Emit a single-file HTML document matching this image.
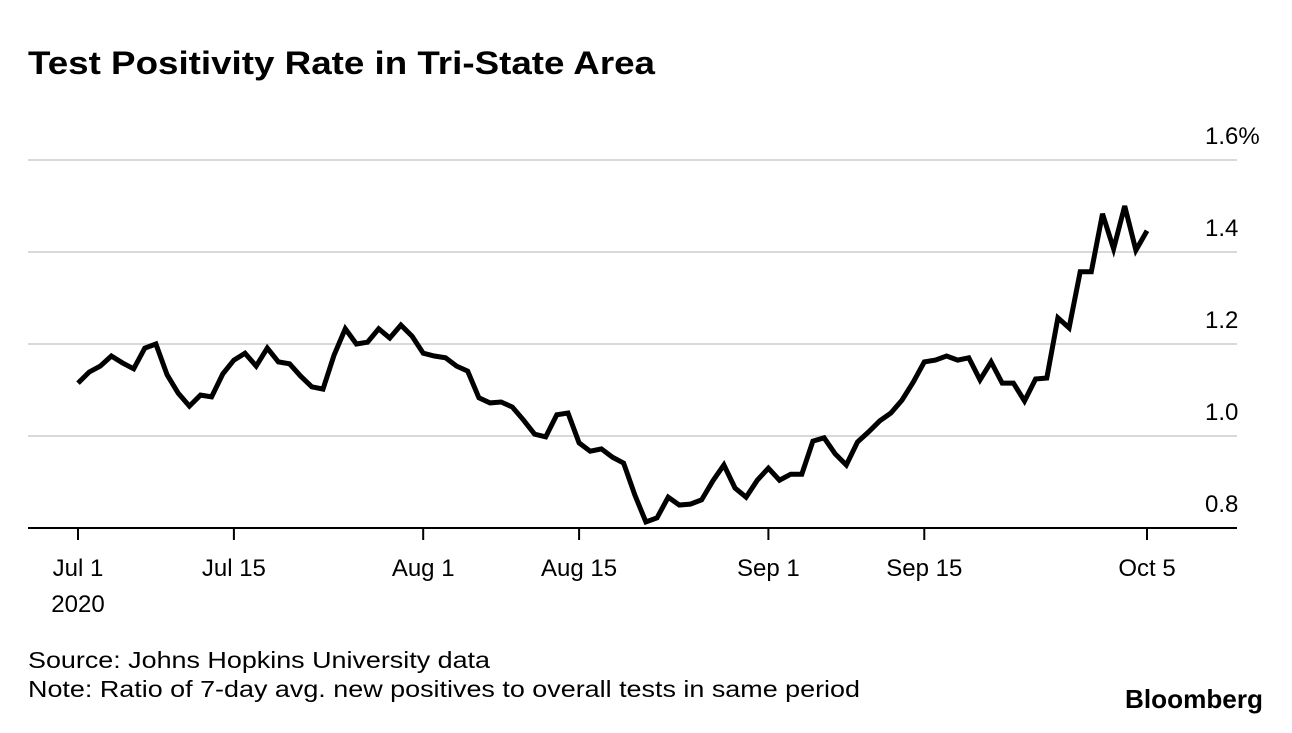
<!DOCTYPE html>
<html><head><meta charset="utf-8">
<style>
body{margin:0;background:#fff;width:1292px;height:728px;overflow:hidden;font-family:"Liberation Sans",Arial,sans-serif;}
</style></head>
<body>
<svg id="chart" width="1292" height="728" xmlns="http://www.w3.org/2000/svg">
<text x="28" y="74" font-family="Liberation Sans, sans-serif" font-weight="bold" font-size="32" fill="#000" textLength="627" lengthAdjust="spacingAndGlyphs">Test Positivity Rate in Tri-State Area</text>
<g id="grid"></g>
<g id="ylabels"></g>
<g id="xaxis"></g>
<path id="line" fill="none" stroke="#000" stroke-width="5" stroke-linejoin="miter" stroke-linecap="butt"></path>
<text x="78" y="612" text-anchor="middle" font-size="24" fill="#000">2020</text>
<text x="28" y="668" font-size="23" fill="#000" textLength="462" lengthAdjust="spacingAndGlyphs">Source: Johns Hopkins University data</text>
<text x="28" y="697" font-size="23" fill="#000" textLength="832" lengthAdjust="spacingAndGlyphs">Note: Ratio of 7-day avg. new positives to overall tests in same period</text>
<text x="1125" y="708" font-size="26" font-weight="bold" fill="#000" textLength="138" lengthAdjust="spacingAndGlyphs">Bloomberg</text>
</svg>
<script>
const values = [1.115,1.139,1.152,1.174,1.159,1.146,1.191,1.2,1.133,1.093,1.065,1.089,1.085,1.135,1.165,1.18,1.152,1.191,1.161,1.157,1.13,1.107,1.102,1.176,1.233,1.2,1.204,1.233,1.213,1.241,1.217,1.18,1.174,1.17,1.152,1.141,1.083,1.072,1.074,1.063,1.035,1.004,0.998,1.046,1.05,0.985,0.967,0.972,0.954,0.941,0.872,0.813,0.822,0.867,0.85,0.852,0.861,0.902,0.937,0.887,0.867,0.904,0.93,0.904,0.917,0.917,0.989,0.996,0.961,0.937,0.987,1.009,1.033,1.05,1.078,1.117,1.161,1.165,1.174,1.165,1.17,1.122,1.161,1.115,1.115,1.076,1.124,1.126,1.257,1.235,1.357,1.357,1.483,1.407,1.5,1.404,1.446];
const yTicks = [0.8,1.0,1.2,1.4,1.6];
const yTickLabels = ["0.8","1.0","1.2","1.4","1.6%"];
const xTickDays = [0,14,31,45,62,76,96];
const xTickLabels = ["Jul 1","Jul 15","Aug 1","Aug 15","Sep 1","Sep 15","Oct 5"];

const NS="http://www.w3.org/2000/svg";
const xScale = d => 78 + d*(1147-78)/96;
const yScale = v => 528 - (v-0.8)*(528-160)/0.8;

const grid=document.getElementById('grid');
const yl=document.getElementById('ylabels');
yTicks.forEach((t,i)=>{
  const y=yScale(t);
  if(i>0){
    const l=document.createElementNS(NS,'line');
    
    
    l.setAttribute('x1',28);l.setAttribute('x2',1237);
    l.setAttribute('y1',y);l.setAttribute('y2',y);
    l.setAttribute('stroke','#d9d9d9');l.setAttribute('stroke-width','2');
    grid.appendChild(l);
  }
  const tx=document.createElementNS(NS,'text');
  
  
  tx.setAttribute('x',1205);tx.setAttribute('y',y-16);
  tx.setAttribute('font-size','24');
  tx.textContent=yTickLabels[i];
  yl.appendChild(tx);
});
const xa=document.getElementById('xaxis');
const base=document.createElementNS(NS,'line');


base.setAttribute('x1',28);base.setAttribute('x2',1237);base.setAttribute('y1',528);base.setAttribute('y2',528);
base.setAttribute('stroke','#000');base.setAttribute('stroke-width','2');
xa.appendChild(base);
xTickDays.forEach((d,i)=>{
  const x=xScale(d);
  const t=document.createElementNS(NS,'line');
  
  
  t.setAttribute('x1',x);t.setAttribute('x2',x);t.setAttribute('y1',528);t.setAttribute('y2',540);
  t.setAttribute('stroke','#000');t.setAttribute('stroke-width','2');
  xa.appendChild(t);
  const tx=document.createElementNS(NS,'text');
  
  
  tx.setAttribute('x',x);tx.setAttribute('y',576);
  tx.setAttribute('text-anchor','middle');tx.setAttribute('font-size','24');
  tx.textContent=xTickLabels[i];
  xa.appendChild(tx);
});
document.getElementById('line').setAttribute('d',values.map((v,i)=>(i?'L':'M')+xScale(i).toFixed(1)+','+yScale(v).toFixed(1)).join(''));
</script>
</body></html>
